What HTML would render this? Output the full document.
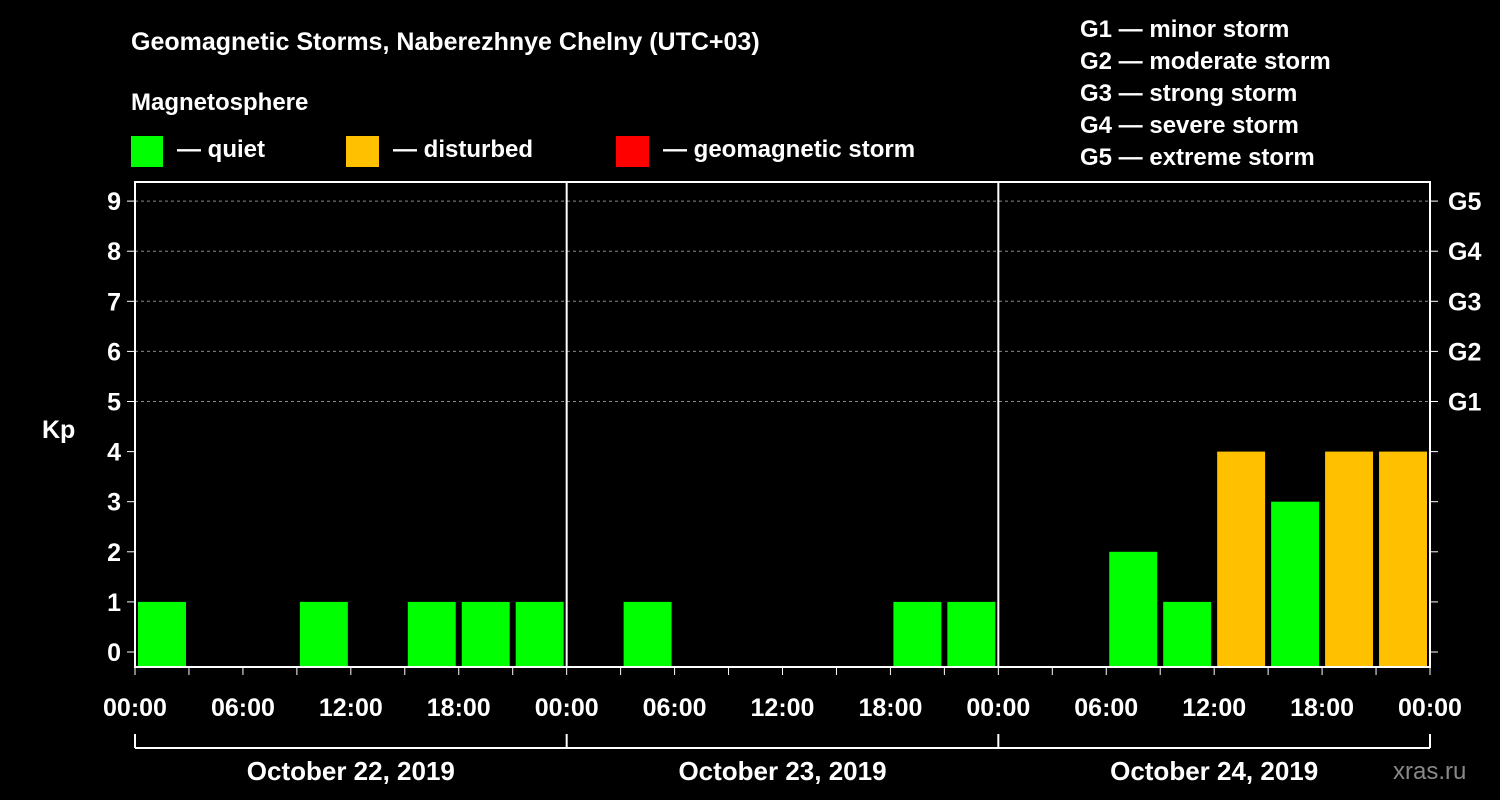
<!DOCTYPE html>
<html><head><meta charset="utf-8"><style>
html,body{margin:0;padding:0;background:#000;}
svg{display:block;font-family:"Liberation Sans",Arial,sans-serif;font-weight:bold;}
</style></head><body>
<svg id="chart" width="1500" height="800" viewBox="0 0 1500 800">
<rect x="0" y="0" width="1500" height="800" fill="#000"/>
<text x="131" y="50" fill="#fff" font-size="25">Geomagnetic Storms, Naberezhnye Chelny (UTC+03)</text>
<text x="131" y="110" fill="#fff" font-size="24">Magnetosphere</text>
<g><rect x="131" y="136" width="32" height="31" fill="#00ff00"/><text x="177" y="157" fill="#fff" font-size="24">— quiet</text></g>
<g><rect x="346" y="136" width="33" height="31" fill="#ffc000"/><text x="393" y="157" fill="#fff" font-size="24">— disturbed</text></g>
<g><rect x="616" y="136" width="33" height="31" fill="#ff0000"/><text x="663" y="157" fill="#fff" font-size="24">— geomagnetic storm</text></g>
<g fill="#fff" font-size="24">
<text x="1080" y="37">G1 — minor storm</text>
<text x="1080" y="69">G2 — moderate storm</text>
<text x="1080" y="101">G3 — strong storm</text>
<text x="1080" y="133">G4 — severe storm</text>
<text x="1080" y="165">G5 — extreme storm</text>
</g>
<text x="42" y="438" fill="#fff" font-size="25">Kp</text>
<text x="1393" y="779" fill="#888" font-size="24" font-weight="normal">xras.ru</text>
<g id="plot"></g>
</svg>
<script>
const days = ["October 22, 2019","October 23, 2019","October 24, 2019"];
const kpDay1 = [1,0,0,1,0,1,1,1];
const kpDay2 = [0,1,0,0,0,0,1,1];
const kpDay3 = [0,0,2,1,4,3,4,4];
const xTickLabels = ["00:00","06:00","12:00","18:00"];
const gLabels = ["G1","G2","G3","G4","G5"];
const yTicks = [0,1,2,3,4,5,6,7,8,9];

const NS = "http://www.w3.org/2000/svg";
const g = document.getElementById("plot");
const L = 135, R = 1430, T = 182, B = 667;
const dayW = (R - L) / days.length;
const slotW = dayW / 8;
const y = v => 652 - v * 50.1;
const x = (day, slot) => L + day * dayW + slot * slotW;
function mk(tag, attrs, text) {
  const e = document.createElementNS(NS, tag);
  for (const k in attrs) e.setAttribute(k, attrs[k]);
  if (text !== undefined) e.textContent = text;
  g.appendChild(e);
  return e;
}
// gridlines
for (let v = 5; v <= 9; v++) {
  const l = mk("line", {x1: L, x2: R, y1: y(v), y2: y(v), stroke: "#888", "stroke-dasharray": "3,3", "stroke-width": 1});
  
  
}
// bars
const all = [kpDay1, kpDay2, kpDay3];
all.forEach((arr, d) => arr.forEach((v, s) => {
  if (v <= 0) return;
  const col = v >= 5 ? "#ff0000" : (v >= 4 ? "#ffc000" : "#00ff00");
  const r = mk("rect", {x: x(d, s) + 3, y: y(v), width: slotW - 6, height: 667 - y(v), fill: col});
  
  
}));
// frame
const fr = mk("rect", {x: L, y: T, width: R - L, height: B - T, fill: "none", stroke: "#fff", "stroke-width": 2});


for (let d = 1; d < days.length; d++) {
  const l = mk("line", {x1: L + d * dayW, x2: L + d * dayW, y1: T, y2: B, stroke: "#fff", "stroke-width": 2});
  
  
}
// y ticks
yTicks.forEach(v => {
  mk("line", {x1: L - 8, x2: L, y1: y(v), y2: y(v), stroke: "#fff", "stroke-width": 1});
  mk("line", {x1: R, x2: R + 8, y1: y(v), y2: y(v), stroke: "#fff", "stroke-width": 1});
  const t = mk("text", {x: L - 14, y: y(v) + 9, fill: "#fff", "font-size": 25, "text-anchor": "end"}, String(v));
  
  
});
gLabels.forEach((lab, i) => {
  const t = mk("text", {x: R + 18, y: y(5 + i) + 9, fill: "#fff", "font-size": 25}, lab);
  
  
});
// x ticks
for (let d = 0; d < days.length; d++) {
  for (let s = 0; s < 8; s++) {
    mk("line", {x1: x(d, s), x2: x(d, s), y1: B, y2: B + 8, stroke: "#fff", "stroke-width": 1});
    if (s % 2 === 0) {
      const t = mk("text", {x: x(d, s), y: 716, fill: "#fff", "font-size": 25, "text-anchor": "middle"}, xTickLabels[s / 2]);
      
      
    }
  }
  const t = mk("text", {x: L + d * dayW + dayW / 2, y: 780, fill: "#fff", "font-size": 26, "text-anchor": "middle"}, days[d]);
  
  
}
mk("line", {x1: R, x2: R, y1: B, y2: B + 8, stroke: "#fff", "stroke-width": 1});
const tl = mk("text", {x: R, y: 716, fill: "#fff", "font-size": 25, "text-anchor": "middle"}, xTickLabels[0]);


// day bracket
const br = mk("line", {x1: L, x2: R, y1: 748, y2: 748, stroke: "#fff", "stroke-width": 2});


for (let d = 0; d <= days.length; d++) {
  mk("line", {x1: L + d * dayW, x2: L + d * dayW, y1: 734, y2: 748, stroke: "#fff", "stroke-width": 2});
}
</script>
</body></html>
